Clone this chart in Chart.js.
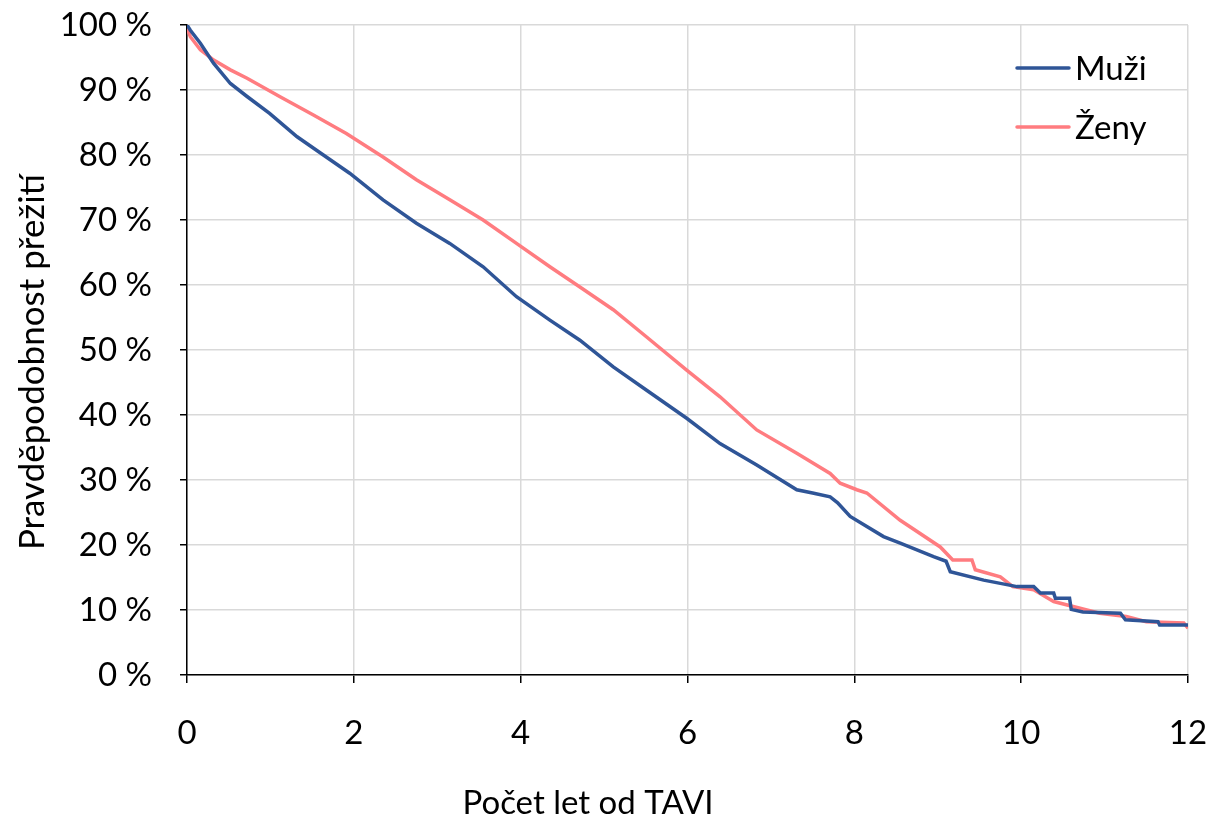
<!DOCTYPE html>
<html>
<head>
<meta charset="utf-8">
<script src="https://cdn.jsdelivr.net/npm/chart.js@4.4.1/dist/chart.umd.min.js"></script>
<style>
  html, body { margin: 0; padding: 0; background: #fff; }
  #wrap { width: 1210px; height: 819px; }
</style>
</head>
<body>
<div id="wrap"><canvas id="myChart" width="1210" height="819"></canvas></div>
<script>
// years since TAVI / survival %
const muziX = [0, 0.04, 0.16, 0.32, 0.52, 0.72, 0.99, 1.32, 1.6, 1.95, 2.35, 2.75, 3.15, 3.55, 3.95, 4.35, 4.71, 5.11, 5.51, 5.99, 6.39, 6.83, 7.31, 7.5, 7.71, 7.8, 7.95, 8.35, 8.55, 8.95, 9.1, 9.15, 9.55, 9.95, 10.15, 10.23, 10.39, 10.41, 10.58, 10.6, 10.74, 11.19, 11.25, 11.64, 11.66, 12.0];
const muziY = [100, 99.2, 97.2, 94.1, 91.0, 89.0, 86.4, 82.8, 80.3, 77.2, 73.1, 69.5, 66.4, 62.8, 58.2, 54.6, 51.5, 47.4, 43.8, 39.5, 35.6, 32.3, 28.5, 28.0, 27.4, 26.5, 24.4, 21.3, 20.3, 18.2, 17.5, 15.9, 14.6, 13.6, 13.6, 12.6, 12.6, 11.8, 11.8, 10.1, 9.7, 9.5, 8.5, 8.2, 7.7, 7.7];

const zenyX = [0, 0.04, 0.16, 0.32, 0.52, 0.72, 1.11, 1.51, 1.91, 2.35, 2.75, 3.15, 3.55, 3.95, 4.35, 4.71, 5.11, 5.51, 5.99, 6.39, 6.83, 7.31, 7.71, 7.83, 8.03, 8.15, 8.55, 9.03, 9.18, 9.41, 9.45, 9.75, 9.9, 10.15, 10.39, 10.94, 11.26, 11.5, 11.95, 12.0];
const zenyY = [99.5, 98.2, 96.2, 94.6, 93.1, 91.8, 89.0, 86.2, 83.3, 79.7, 76.2, 73.1, 70.0, 66.4, 62.8, 59.7, 56.2, 52.0, 46.9, 42.8, 37.7, 34.1, 31.0, 29.5, 28.5, 28.0, 23.8, 19.7, 17.7, 17.7, 16.2, 15.1, 13.6, 13.1, 11.3, 9.5, 9.0, 8.2, 8.0, 7.2];

const seriesNames = ["Muži", "Ženy"];
const seriesColors = ["#2F5597", "#FF7C80"];
const xTicks = [0, 2, 4, 6, 8, 10, 12];
const yTicks = [0, 10, 20, 30, 40, 50, 60, 70, 80, 90, 100];
const xTitle = "Počet let od TAVI";
const yTitle = "Pravděpodobnost přežití";

const font = "Lato, 'Open Sans', sans-serif";
const fontSize = 33;

function toPoints(xs, ys) {
  return xs.map((x, i) => ({ x: x, y: ys[i] }));
}

// legend inside the plot (top right) and the axis titles, placed like the original
const extras = {
  id: 'extras',
  afterDraw(chart) {
    const ctx = chart.ctx;
    const area = chart.chartArea;
    ctx.save();
    ctx.font = fontSize + "px " + font;
    ctx.textBaseline = "middle";
    chart.data.datasets.forEach((ds, i) => {
      const y = area.top + 43 + i * 59;
      const x0 = area.right - 171;
      ctx.strokeStyle = ds.borderColor;
      ctx.lineWidth = 3.5;
      ctx.lineCap = "round";
      ctx.beginPath();
      ctx.moveTo(x0, y);
      ctx.lineTo(x0 + 52, y);
      ctx.stroke();
      ctx.fillStyle = "#000";
      ctx.fillText(ds.label, x0 + 58, y + 1);
    });

    ctx.fillStyle = "#000";
    ctx.textBaseline = "alphabetic";
    ctx.textAlign = "center";
    ctx.fillText(xTitle, 588, 814);

    ctx.font = "35px " + font;
    ctx.translate(44, 362);
    ctx.rotate(-Math.PI / 2);
    ctx.fillText(yTitle, 0, 0);
    ctx.restore();
  }
};

const myChartRef = document.getElementById("myChart").getContext("2d");

new Chart(myChartRef, {
  type: "line",
  data: {
    datasets: [
      { label: seriesNames[0], data: toPoints(muziX, muziY), borderColor: seriesColors[0], backgroundColor: seriesColors[0] },
      { label: seriesNames[1], data: toPoints(zenyX, zenyY), borderColor: seriesColors[1], backgroundColor: seriesColors[1] }
    ]
  },
  options: {
    responsive: false,
    animation: false,
    layout: { padding: { left: 0, right: 22, top: 25, bottom: 0 } },
    elements: {
      point: { radius: 0 },
      line: { borderWidth: 3.5, tension: 0 }
    },
    plugins: {
      legend: { display: false },
      tooltip: { enabled: false }
    },
    scales: {
      x: {
        type: "linear",
        min: 0,
        max: 12,
        afterBuildTicks: (s) => { s.ticks = xTicks.map(v => ({ value: v })); },
        afterFit: (s) => { s.height = 144; s.paddingLeft = 0; s.paddingRight = 0; },
        grid: { color: "#d9d9d9", lineWidth: 1.5, tickColor: "#000", tickLength: 8 },
        border: { color: "#000", width: 1.5 },
        ticks: { color: "#000", font: { family: font, size: fontSize }, padding: 31, maxRotation: 0 }
      },
      y: {
        min: 0,
        max: 100,
        afterBuildTicks: (s) => { s.ticks = yTicks.map(v => ({ value: v })); },
        afterFit: (s) => { s.width = 187; s.paddingTop = 0; s.paddingBottom = 0; },
        grid: { color: "#d9d9d9", lineWidth: 1.5, tickColor: "#000", tickLength: 7 },
        border: { color: "#000", width: 1.5 },
        ticks: { color: "#000", font: { family: font, size: fontSize }, padding: 28, callback: (v) => v + " %" }
      }
    }
  },
  plugins: [extras]
});
</script>
</body>
</html>
